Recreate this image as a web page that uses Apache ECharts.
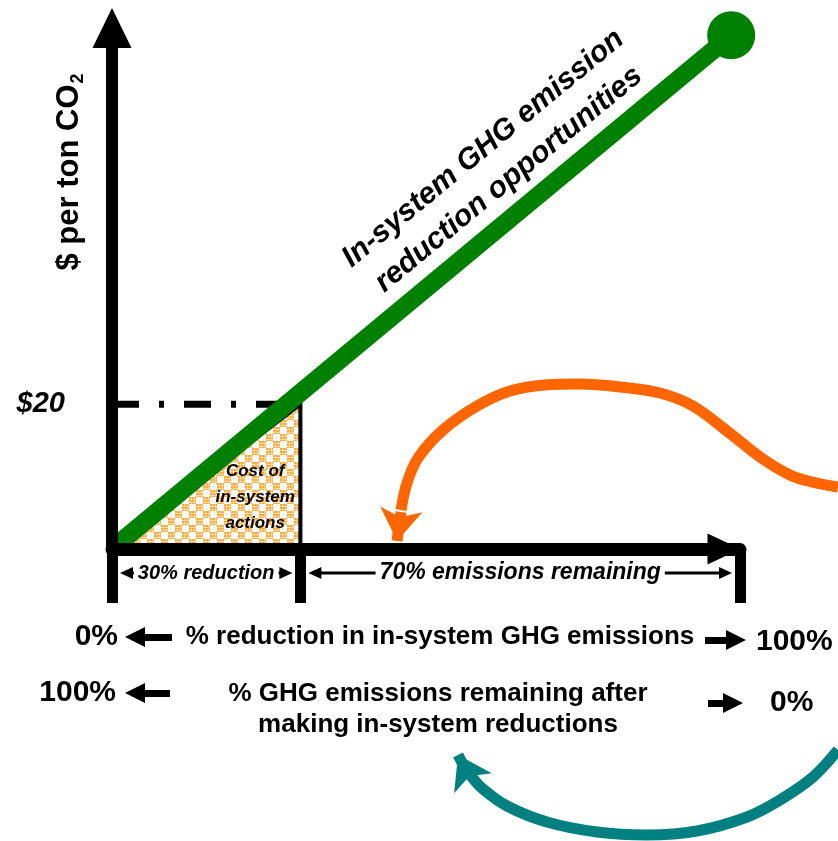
<!DOCTYPE html>
<html>
<head>
<meta charset="utf-8">
<title>In-system GHG reduction cost curve</title>
<script src="https://cdn.jsdelivr.net/npm/echarts@6.0.0/dist/echarts.min.js"></script>
<style>
  html, body { margin: 0; padding: 0; background: #fff; }
  #chart { width: 838px; height: 841px; }
</style>
</head>
<body>
<div id="chart"></div>
<script>
// ---- values ----
// share of emissions cut by in-system actions (%) and the price reached there ($/t CO2)
const reductionShare = 30;
const priceLevel = 20;
// marginal cost curve of in-system opportunities: [% reduction, $ per ton]
const opportunityCurve = [[0, 0], [98.6, 71]];
// spans marked under the horizontal axis
const spanBounds = [0, 30, 100];
const spanLabels = ['30% reduction', '70% emissions remaining'];
const spanFontSizes = [20, 23];

// annotation strokes, in page pixels (drawn on a hidden full-page grid)
const orangeArrowPath = [[838, 487], [812, 482], [790, 475], [760, 457], [727, 431], [693, 406],
  [660, 393], [620, 387], [580, 384], [545, 385], [510, 391], [477, 406], [443, 430], [418, 458], [407, 483], [401, 510]];
const orangeArrowHead = [[401, 512], [397, 541]];
const tealArrowPath = [[838, 750], [813, 777], [780, 800], [747, 817], [697, 831], [647, 835],
  [597, 832], [547, 822], [507, 806], [483, 789], [471, 776], [467, 770]];
const tealArrowHead = [[467, 772], [458, 755]];
const blockArrows = [
  [[172, 637], [135, 637]],
  [[705, 640], [736, 640]],
  [[170, 693], [135, 693]],
  [[708, 703], [733, 703]]
];

const FONT = '"Liberation Sans", Arial, Helvetica, sans-serif';

// orange checker tile used to fill the cost triangle
function makeCheckerTile() {
  const c = document.createElement('canvas');
  c.width = 14; c.height = 14;
  const g = c.getContext('2d');
  g.fillStyle = '#ffffff';
  g.fillRect(0, 0, 14, 14);
  [[0, 0], [7, 7]].forEach(([ox, oy]) => {
    g.fillStyle = '#ffa733';
    g.fillRect(ox, oy, 7, 7);
    g.fillStyle = '#ffd699';
    g.fillRect(ox + 2, oy, 1, 7); g.fillRect(ox + 5, oy, 1, 7);
    g.fillRect(ox, oy + 2, 7, 1); g.fillRect(ox, oy + 5, 7, 1);
  });
  return c;
}
const checkerTile = makeCheckerTile();

const chart = echarts.init(document.getElementById('chart'), null, { renderer: 'canvas' });

const option = {
  animation: false,
  backgroundColor: '#ffffff',
  grid: [
    { left: 112, right: 98, top: 28, bottom: 292, containLabel: false },
    { left: 0, right: 0, top: 0, bottom: 0, containLabel: false }
  ],
  xAxis: [
    {
      type: 'value', gridIndex: 0, min: 0, max: 100, z: 10,
      splitLine: { show: false },
      axisLabel: { show: false },
      axisLine: {
        show: true, onZero: true,
        symbol: ['none', 'triangle'], symbolSize: [31, 33], symbolOffset: [0, -16],
        lineStyle: { color: '#000', width: 13 }
      },
      axisTick: {
        show: true, inside: false, length: 54, customValues: spanBounds,
        lineStyle: { color: '#000', width: 11 }
      }
    },
    { type: 'value', gridIndex: 1, min: 0, max: 838, show: false }
  ],
  yAxis: [
    {
      type: 'value', gridIndex: 0, min: 0, max: 72, z: 10,
      splitLine: { show: false },
      axisTick: { show: false },
      axisLine: {
        show: true, onZero: true,
        symbol: ['none', 'triangle'], symbolSize: [39, 40],
        lineStyle: { color: '#000', width: 12 }
      },
      axisLabel: {
        show: true, customValues: [priceLevel], margin: 47,
        formatter: v => '$' + v,
        color: '#000', fontSize: 29, fontWeight: 'bold', fontStyle: 'italic', fontFamily: FONT
      }
    },
    { type: 'value', gridIndex: 1, min: 0, max: 841, inverse: true, show: false }
  ],
  series: [
    // cost triangle: area under the curve up to the reduction share
    {
      type: 'custom', xAxisIndex: 0, yAxisIndex: 0, z: 1, silent: true,
      data: [[0, 0]],
      renderItem: function (params, api) {
        const p0 = api.coord([0, 0]);
        const p1 = api.coord([reductionShare, priceLevel]);
        const p2 = api.coord([reductionShare, 0]);
        const t = api.coord([reductionShare * 0.76, priceLevel * 0.36]);
        return {
          type: 'group',
          children: [
            {
              type: 'polygon',
              shape: { points: [p0, p1, p2] },
              style: { fill: { image: checkerTile, repeat: 'repeat' }, stroke: '#000', lineWidth: 4 }
            },
            {
              type: 'text', x: t[0], y: t[1],
              style: {
                text: 'Cost of\nin-system\nactions',
                font: 'italic bold 17px ' + FONT, fill: '#000',
                align: 'center', verticalAlign: 'middle', lineHeight: 26
              }
            }
          ]
        };
      }
    },
    // price level guide
    {
      type: 'line', xAxisIndex: 0, yAxisIndex: 0, z: 2, silent: true,
      data: [[0, priceLevel], [reductionShare, priceLevel]],
      symbol: 'none',
      lineStyle: { color: '#000', width: 7, type: [27, 20, 5, 20] }
    },
    // opportunity curve
    {
      type: 'line', xAxisIndex: 0, yAxisIndex: 0, z: 3, silent: true,
      data: [{ value: opportunityCurve[0], symbol: 'none' }, { value: opportunityCurve[1] }],
      symbol: 'circle', symbolSize: 48,
      itemStyle: { color: '#008000' },
      lineStyle: { color: '#008000', width: 18 }
    },
    // span dimension arrows under the axis
    {
      type: 'custom', xAxisIndex: 0, yAxisIndex: 0, z: 4, silent: true,
      data: spanLabels.map((s, i) => [spanBounds[i], spanBounds[i + 1]]),
      renderItem: function (params, api) {
        const i = params.dataIndex;
        const a = api.coord([api.value(0), 0]);
        const b = api.coord([api.value(1), 0]);
        const y = a[1] + 24;
        const x0 = a[0] + 8, x1 = b[0] - 8;
        return {
          type: 'group',
          children: [
            { type: 'line', shape: { x1: x0 + 6, y1: y, x2: x1 - 6, y2: y }, style: { stroke: '#000', lineWidth: 3 } },
            { type: 'polygon', shape: { points: [[x0, y], [x0 + 13, y - 6], [x0 + 13, y + 6]] }, style: { fill: '#000' } },
            { type: 'polygon', shape: { points: [[x1, y], [x1 - 13, y - 6], [x1 - 13, y + 6]] }, style: { fill: '#000' } },
            {
              type: 'text', x: (x0 + x1) / 2, y: y,
              style: {
                text: spanLabels[i], font: 'italic bold ' + spanFontSizes[i] + 'px ' + FONT,
                fill: '#000', align: 'center', verticalAlign: 'middle',
                backgroundColor: '#fff', padding: [0, 4]
              }
            }
          ]
        };
      }
    },
    // curved annotation arrows
    {
      type: 'line', xAxisIndex: 1, yAxisIndex: 1, z: 5, silent: true,
      data: orangeArrowPath, smooth: 0.35, symbol: 'none',
      lineStyle: { color: '#ff6600', width: 11 }
    },
    {
      type: 'lines', coordinateSystem: 'cartesian2d', xAxisIndex: 1, yAxisIndex: 1, z: 5, silent: true,
      data: [{ coords: orangeArrowHead }],
      symbol: ['none', 'arrow'], symbolSize: 32,
      lineStyle: { color: '#ff6600', width: 11, opacity: 1 }
    },
    {
      type: 'line', xAxisIndex: 1, yAxisIndex: 1, z: 5, silent: true,
      data: tealArrowPath, smooth: 0.35, symbol: 'none',
      lineStyle: { color: '#008080', width: 11 }
    },
    {
      type: 'lines', coordinateSystem: 'cartesian2d', xAxisIndex: 1, yAxisIndex: 1, z: 5, silent: true,
      data: [{ coords: tealArrowHead }],
      symbol: ['none', 'arrow'], symbolSize: 32,
      lineStyle: { color: '#008080', width: 11, opacity: 1 }
    },
    // block arrows beside the axis captions
    {
      type: 'lines', coordinateSystem: 'cartesian2d', xAxisIndex: 1, yAxisIndex: 1, z: 5, silent: true,
      data: blockArrows.map(c => ({ coords: c })),
      symbol: ['none', 'triangle'], symbolSize: 20,
      lineStyle: { color: '#000', width: 7, opacity: 1 }
    }
  ],
  graphic: [
    {
      type: 'text', x: 69, y: 172, rotation: Math.PI / 2, silent: true,
      style: {
        text: '{a|$ per ton CO}{s|2}',
        align: 'center', verticalAlign: 'middle',
        rich: {
          a: { font: 'bold 31px ' + FONT, fill: '#000', lineHeight: 36 },
          s: { font: 'bold 18px ' + FONT, fill: '#000', lineHeight: 36, verticalAlign: 'bottom', padding: [0, 0, 0, 1] }
        }
      }
    },
    {
      type: 'text', x: 496, y: 164, rotation: 0.69, silent: true,
      style: {
        text: 'In-system GHG emission\nreduction opportunities',
        font: 'italic bold 30px ' + FONT, fill: '#000',
        align: 'center', verticalAlign: 'middle', lineHeight: 40
      }
    },
    { type: 'text', x: 118, y: 637, silent: true,
      style: { text: '0%', font: 'bold 30px ' + FONT, fill: '#000', align: 'right', verticalAlign: 'middle' } },
    { type: 'text', x: 440, y: 637, silent: true,
      style: { text: '% reduction in in-system GHG emissions', font: 'bold 26px ' + FONT, fill: '#000', align: 'center', verticalAlign: 'middle' } },
    { type: 'text', x: 756, y: 642, silent: true,
      style: { text: '100%', font: 'bold 30px ' + FONT, fill: '#000', align: 'left', verticalAlign: 'middle' } },
    { type: 'text', x: 116, y: 693, silent: true,
      style: { text: '100%', font: 'bold 30px ' + FONT, fill: '#000', align: 'right', verticalAlign: 'middle' } },
    { type: 'text', x: 438, y: 709, silent: true,
      style: { text: '% GHG emissions remaining after\nmaking in-system reductions', font: 'bold 26px ' + FONT, fill: '#000', align: 'center', verticalAlign: 'middle', lineHeight: 31 } },
    { type: 'text', x: 770, y: 703, silent: true,
      style: { text: '0%', font: 'bold 30px ' + FONT, fill: '#000', align: 'left', verticalAlign: 'middle' } }
  ]
};

chart.setOption(option);
</script>
</body>
</html>
